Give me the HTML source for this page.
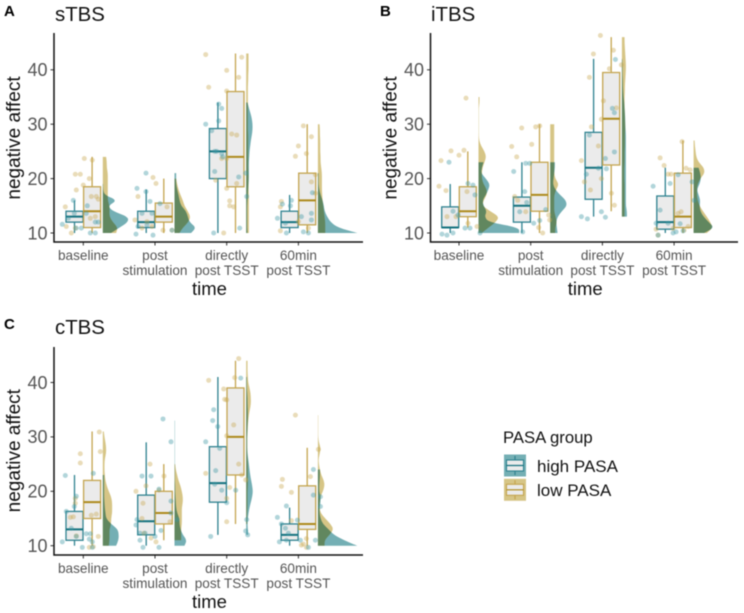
<!DOCTYPE html>
<html lang="en">
<head>
<meta charset="utf-8">
<title>Negative affect by time and PASA group</title>
<style>
html,body{margin:0;padding:0;background:#fff;width:744px;height:613px;overflow:hidden}
svg{display:block;font-family:"Liberation Sans",Arial,sans-serif;filter:blur(.4px)}
</style>
</head>
<body>
<svg id="figure" width="744" height="613" viewBox="0 0 744 613" xmlns="http://www.w3.org/2000/svg"></svg>
<script>
const categories = [["baseline"], ["post", "stimulation"], ["directly", "post TSST"], ["60min", "post TSST"]];
const yTicks = [10, 20, 30, 40];

// box stats per time point: [lower whisker, q1, median, q3, upper whisker]
const sTBS_high_box = [[10,12,13,14,16],[10,11,12,14,18],[10,20,25,29.2,34],[10,11,12,14,17]];
const sTBS_low_box = [[10,11,14,18.5,24],[10,12,13,15.5,20],[10,18.5,24,36,43],[10,11.5,16,21,30]];
const iTBS_high_box = [[10,11,11,14.8,19],[10,12,15,16.6,23],[13,16.2,22,28.5,42],[10,10.7,12,16.8,22]];
const iTBS_low_box = [[11,13,14,18.5,25],[10,14,17,23,30],[14,22.5,31,39.5,46],[10,11,13,21,27]];
const cTBS_high_box = [[10,11,13,16.3,23],[10,12,14.5,19.3,29],[12,18,21.5,28.2,41],[10,11,12,14,17]];
const cTBS_low_box = [[10,15,18,22,31],[11,14,16,20,25],[14,23,30,39,44],[10,13,14,21,28]];

// density at integer scores starting from 10
const sTBS_high_density = [
 [25,50,76,76,30,15,44,5,1,1],
 [50,65,45,40,35,20,15,12,8,5,5,5],
 [4,3,3,3,3,3,4,5,6,7,8,8,8,8,9,10,12,14,17,19,19,17,13,8,4],
 [118,60,38,28,20,18,14,8,4,2,2,2]];
const sTBS_low_density = [
 [40,45,30,20,20,20,15,15,15,15,15,15,12,12,10],
 [15,25,42,48,40,30,25,18,12,8,5],
 [8,8,8,8,8,8,8,8,7,7,7,7,6,6,6,6,6,6,6,5,5,5,5,5,5,5,5,5,6,6,7,7,7,7],
 [22,22,22,20,18,16,14,13,12,12,12,12,10,8,8,7,7,7,6,6,5]];
const iTBS_high_density = [
 [122,122,30,18,25,15,12,22,30,34,22,8,10,15],
 [22,20,18,22,35,50,47,30,15,8,10,12,14,14],
 [0,0,0,15,15,12,12,12,12,12,12,12,12,12,12,12,12,12,12,11,10,10,9,8,7,5,4,3,3,2,2,2,1],
 [32,62,45,30,20,18,20,15,10,18,22,20,15]];
const iTBS_low_density = [
 [10,30,52,62,35,12,15,25,25,15,10,10,12,18,23,18,8,2,1,1,1,1,1,1,3,3],
 [15,15,20,16,12,12,12,12,18,26,15,12,12,12,12,12,12,12,12,12,12],
 [0,0,0,8,8,8,8,8,8,8,7,7,7,8,8,8,9,9,9,10,10,9,9,8,8,8,9,9,10,11,12,12,11,10,9,8,8],
 [40,58,50,40,28,18,12,10,10,12,20,33,31,15,8,6,4,3]];
const cTBS_high_density = [
 [40,47,48,45,25,10,8,6,5,4,4,4,4,4],
 [30,37,25,18,15,15,8,5,4,3,2,2,1,1,1,1,1,1,1,1,1,1,1,1],
 [0,0,6,5,4,5,7,10,14,18,20,18,15,12,10,8,6,4,3,3,3,4,4,5,5,5,4,4,3,2,2,2],
 [118,78,48,32,15,8,5,5,8,8,4,4,5,6,6]];
const cTBS_low_density = [
 [18,20,20,20,25,25,28,28,28,25,18,12,8,6,5,5,6,10,10,8,5,3],
 [0,20,20,20,22,22,22,22,25,25,22,18,12,8,4,2],
 [0,0,0,0,3,3,3,4,4,4,4,5,5,5,5,5,4,3,3,3,3,4,5,6,8,11,14,14,13,10,6,5,4,4,4],
 [20,20,35,47,38,22,8,5,5,8,15,20,18,10,6,3,2,6,8,3,1,1,1,1,1]];

// jittered observations: horizontal jitter and score, per time point
const sTBS_high_jitter = [
 [-21,-10,-9,-15,-7,-2,7,12,4,12,15,3],
 [-19,-18,-9,-9,-5,-3,-13,-17,-8,-2,5,17],
 [-8,-5,-8,-21,-15,-10,-12,-5,-4,-12,12,-13,13,19,20],
 [-21,-16,-7,-8,-13,-12,3,5,10,13,14,13]];
const sTBS_high_scores = [
 [11.6,16,13.6,12.7,10.9,10.9,10,10,15,12,12,13.6],
 [9.8,18.2,21,17.6,15.8,13.6,13.6,11.2,11.5,9.6,15.4,10.5],
 [33.7,32.9,30.6,30,28.8,25,25,24.6,24,21.3,20.3,10,10.9,21,16.7],
 [12.7,15.3,16,15,11.8,10,13,10.2,10,13.6,17.4,12.4]];
const sTBS_low_jitter = [
 [-18,-17,-12,-8,-3,-7,0,1,9,6,8,13,15,7,12,-8],
 [-2,1,-17,-20,-13,-8,-3,8,17,12],
 [-21,15,0,-18,12,0,5,10,0,-5,-11,0,10,3,3,7,-3],
 [-17,-18,-3,0,5,13,8,17,13,17,-18,10,0]];
const sTBS_low_scores = [
 [14.8,11.2,10,20.8,20.8,17.9,18.8,23.7,23.4,20,16.7,16.7,16.2,12.7,13,10.9],
 [20.2,19.1,16.7,12.4,10.9,12.1,11.2,10.5,10.5,14.8],
 [42.8,42.3,39.9,36.8,38.6,36.1,28.2,28,23.7,23.7,19.7,18.2,19.1,15.9,15,14.8,10],
 [15.8,10.4,24.1,26,29.7,27.7,24.6,20.7,19.4,17.3,14.8,10.9,12.1]];

const iTBS_high_jitter = [
 [-17,-12,-6,-10,-6,-1,6,11,9,14,16,21],
 [-17,-5,-1,-6,-11,-8,3,15,-4,9],
 [-21,-15,-1,3,13,10,12,12,3,4,-16,-4,-13],
 [-21,-14,-18,-6,-4,4,6,-1,2,9,18,20,-16]];
const iTBS_high_scores = [
 [9.8,9.6,10,23,14,13.3,10.9,10.9,19.1,18.8,17,10],
 [21.3,22.8,22.8,17.6,13.9,10.2,11.8,14.3,15.6,12.3],
 [13,12.6,13.9,12.9,41.9,32.9,32.1,24.9,23.7,21.8,20.8,21.9,28],
 [18.6,14.2,11.8,11.8,19.1,20.7,11.7,10,10.2,10.4,19.4,16,9.6]];
const iTBS_low_jitter = [
 [-18,-8,5,0,-20,-13,8,-12,-3,9,18,7],
 [-9,-19,-14,5,9,1,-16,-13,-5,8,12,18,19],
 [-9,-2,-13,7,11,19,1,14,-11,-1,-4,-21,-18,-1,-12,9,12],
 [-14,-10,-6,-3,8,12,16,7,4,-18,-1,10,14,-16]];
const iTBS_low_scores = [
 [23.3,25.1,25.2,24.3,18.6,17.8,17.6,13,13,11.8,11.2,34.8],
 [29.3,25.9,24,29.5,29.7,26.3,16.7,16,13.9,11,10,13.3,12.4],
 [42.9,46.3,38.6,40.2,43.6,40.9,34.3,33,29.5,30.9,26,23.3,19.4,20,17.9,17.3,15.1],
 [23.8,22.4,20.8,20.8,26.8,21.9,21.6,13.9,13.6,10.7,10.8,10.5,11.2,9.6]];

const cTBS_high_jitter = [
 [-18,-7,-9,-17,-12,-21,-7,-1,3,7,6,9,10,9],
 [8,16,-4,-13,-18,-19,-15,-12,4,6,4,16,16,22,-15,0,-10],
 [14,-13,-9,-14,-21,-7,-11,-12,-5,9,0,-16,20,19,21],
 [-21,-12,-17,-13,-10,-12,-1,2,10,15,15,17,22,22,-19]];
const cTBS_high_scores = [
 [22.9,19.1,17.2,16.3,13.2,10.7,11.7,9.7,12.2,12.2,11.2,9.7,23.3,10.7],
 [33.3,29.1,22.8,22.8,14.8,13.8,11,9.7,9.7,12.8,20.4,18.2,16,14.8,12.3,11.7,12.3],
 [40.8,35,31.9,33,29.1,27.9,23.8,21.3,20.2,20.2,17.9,11.7,14.8,12.7,12],
 [15.2,17.3,14,13.2,12.3,11,14.7,11,9.7,19.3,24,11,17.2,19,10.7]];
const cTBS_low_jitter = [
 [-3,-3,16,17,-8,-8,-13,-10,8,13,-7,6,15,10],
 [-5,-19,-9,-12,9,-13,-11,-4,1,4,15],
 [-18,8,12,-3,-2,0,7,0,-21,12,15,19,0,3,0],
 [-3,-16,-17,-7,12,-7,8,5,8,3,20]];
const cTBS_low_scores = [
 [26.9,25.2,30.9,27.3,18.7,17.8,15.2,15.3,15.6,15.8,11.8,9.7,11.7,9.8],
 [25,20,21,17.8,22.8,15,12.3,11.4,10.7,20.2,14.4],
 [40.4,40.9,44.4,38.8,36.9,36.8,32.2,30.2,23.3,25,23,22.1,18.7,20.7,14.4],
 [34,22.2,20.9,19.8,22.7,14.6,11.3,10.3,9.7,10.1,27.7]];

const NS = "http://www.w3.org/2000/svg";
const svg = document.getElementById("figure");
const HIGH = {line:"#2f8290", median:"#14727f", fill:"#74afb4", point:"#3d97a3"};
const LOW = {line:"#c4a550", median:"#ad8a1c", fill:"#d6c586", point:"#c9a850"};
const TICK_STEP = 71.7;
const PX_PER_UNIT = 5.44;
const DENSITY_SCALE = 1 / 3;

function mk(parent, tag, attrs, text) {
  const el = document.createElementNS(NS, tag);
  for (const k in attrs) el.setAttribute(k, attrs[k]);
  if (text !== undefined) el.textContent = text;
  parent.appendChild(el);
  return el;
}

function drawViolin(g, cx, yScale, dens, col) {
  const base = cx + 19.5;
  let first = 0;
  while (first < dens.length - 1 && dens[first] === 0) first++;
  const last = dens.length - 1;
  let d = "M" + base + " " + yScale(10 + first);
  let px = base + dens[first] * DENSITY_SCALE;
  let py = yScale(10 + first);
  d += "L" + px + " " + py;
  for (let i = first + 1; i <= last; i++) {
    const nx = base + dens[i] * DENSITY_SCALE;
    const ny = yScale(10 + i);
    d += "Q" + px + " " + py + " " + (px + nx) / 2 + " " + (py + ny) / 2;
    px = nx;
    py = ny;
  }
  d += "L" + px + " " + py + "L" + base + " " + py + "Z";
  const el = mk(g, "path", {d: d, fill: col.fill, style: "mix-blend-mode:multiply"});
  
  
}

function drawBox(g, cx, yScale, s, col) {
  const w = 17;
  const whisker = mk(g, "line", {x1: cx, x2: cx, y1: yScale(s[0]), y2: yScale(s[4]), stroke: col.line, "stroke-width": 1.3});
  
  
  const rect = mk(g, "rect", {x: cx - w / 2, y: yScale(s[3]), width: w, height: yScale(s[1]) - yScale(s[3]), fill: "#ebebeb", stroke: col.line, "stroke-width": 1.3});
  
  
  const med = mk(g, "line", {x1: cx - w / 2, x2: cx + w / 2, y1: yScale(s[2]), y2: yScale(s[2]), stroke: col.median, "stroke-width": 2});
  
  
}

function drawPoints(g, cx, yScale, jit, vals, col) {
  vals.forEach(function (v, i) {
    const c = mk(g, "circle", {cx: cx + jit[i], cy: yScale(v), r: 2.5, fill: col.point, "fill-opacity": 0.4});
    
    
  });
}

function drawPanel(letter, title, left, right, top, bottom, y10, tick0, letterX, letterY, titleX, titleY, highBox, lowBox, highDens, lowDens, highJit, highVals, lowJit, lowVals) {
  const yScale = function (v) { return y10 - (v - 10) * PX_PER_UNIT; };
  const xScale = function (i) { return tick0 + i * TICK_STEP; };
  const panel = mk(svg, "g", {});
  
  

  const tagEl = mk(panel, "text", {x: letterX, y: letterY, "font-size": 15, "font-weight": "bold", fill: "#000"}, letter);
  
  
  const titleEl = mk(panel, "text", {x: titleX, y: titleY, "font-size": 20.4, fill: "#111"}, title);
  
  

  categories.forEach(function (lab, i) {
    const cx = xScale(i);
    drawViolin(panel, cx, yScale, lowDens[i], LOW);
    drawViolin(panel, cx, yScale, highDens[i], HIGH);
  });
  categories.forEach(function (lab, i) {
    const cx = xScale(i);
    drawBox(panel, cx - 8.8, yScale, highBox[i], HIGH);
    drawBox(panel, cx + 8.8, yScale, lowBox[i], LOW);
    drawPoints(panel, cx, yScale, lowJit[i], lowVals[i], LOW);
    drawPoints(panel, cx, yScale, highJit[i], highVals[i], HIGH);

    const tick = mk(panel, "line", {x1: cx, x2: cx, y1: bottom, y2: bottom + 3.5, stroke: "#333", "stroke-width": 1});
    
    
    lab.forEach(function (line, k) {
      const t = mk(panel, "text", {x: cx, y: bottom + 18 + k * 15, "text-anchor": "middle", "font-size": 13.6, fill: "#555"}, line);
      
      
    });
  });

  yTicks.forEach(function (v) {
    const tick = mk(panel, "line", {x1: left - 3.5, x2: left, y1: yScale(v), y2: yScale(v), stroke: "#333", "stroke-width": 1});
    
    
    const t = mk(panel, "text", {x: left - 6.5, y: yScale(v) + 6.3, "text-anchor": "end", "font-size": 18, fill: "#555"}, String(v));
    
    
  });

  const axis = mk(panel, "path", {d: "M" + left + " " + top + "V" + bottom + "H" + right, fill: "none", stroke: "#111", "stroke-width": 1.5});
  
  

  const xt = mk(panel, "text", {x: (left + right) / 2 + 1, y: bottom + 53, "text-anchor": "middle", "font-size": 18.5, fill: "#111"}, "time");
  
  
  const yx = left - 34;
  const yy = y10 - 95;
  const yt = mk(panel, "text", {x: yx, y: yy, "text-anchor": "middle", "font-size": 19, fill: "#111", transform: "rotate(-90 " + yx + " " + yy + ")"}, "negative affect");
  
  
}

drawPanel("A", "sTBS", 54, 363, 33, 242, 233, 83.3, 4, 16, 55, 21,
  sTBS_high_box, sTBS_low_box, sTBS_high_density, sTBS_low_density,
  sTBS_high_jitter, sTBS_high_scores, sTBS_low_jitter, sTBS_low_scores);
drawPanel("B", "iTBS", 430.5, 738, 33, 242, 233, 459, 380, 16, 431, 21,
  iTBS_high_box, iTBS_low_box, iTBS_high_density, iTBS_low_density,
  iTBS_high_jitter, iTBS_high_scores, iTBS_low_jitter, iTBS_low_scores);
drawPanel("C", "cTBS", 54, 363, 347, 555, 545.7, 83.3, 4, 329, 55, 334,
  cTBS_high_box, cTBS_low_box, cTBS_high_density, cTBS_low_density,
  cTBS_high_jitter, cTBS_high_scores, cTBS_low_jitter, cTBS_low_scores);

// legend
const legendEntries = ["high PASA", "low PASA"];
const legendColors = [HIGH, LOW];
const legend = mk(svg, "g", {});


const legendTitle = mk(legend, "text", {x: 503, y: 443, "font-size": 16.7, fill: "#111"}, "PASA group");


legendEntries.forEach(function (name, i) {
  const col = legendColors[i];
  const y = 454.5 + i * 24.3;
  const key = mk(legend, "g", {});
  
  
  mk(key, "rect", {x: 504, y: y, width: 22, height: 22, fill: col.fill});
  mk(key, "line", {x1: 515, x2: 515, y1: y + 1.5, y2: y + 20.5, stroke: col.line, "stroke-width": 1.2});
  mk(key, "rect", {x: 506.5, y: y + 5.5, width: 17, height: 11, fill: "#ebebeb", stroke: col.line, "stroke-width": 1.1});
  mk(key, "line", {x1: 506.5, x2: 523.5, y1: y + 11, y2: y + 11, stroke: col.median, "stroke-width": 1.2});
  const t = mk(legend, "text", {x: 537, y: 472 + i * 24, "font-size": 17, fill: "#111"}, name);
  
  
});
</script>
</body>
</html>
